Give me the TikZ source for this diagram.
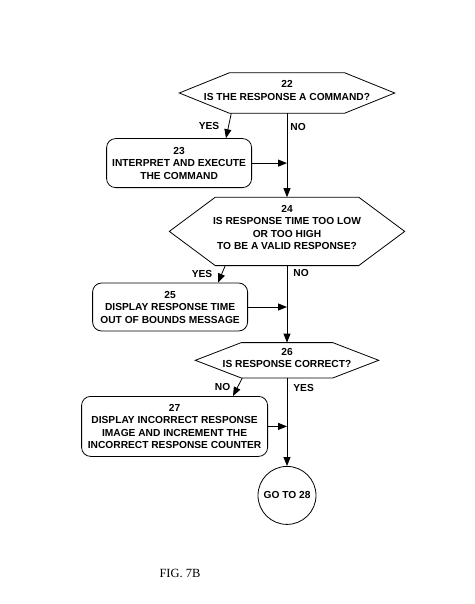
\documentclass[tikz,border=0pt]{standalone}
\usepackage{fontspec}
\setmainfont{Liberation Sans}
\newfontfamily\captionfont{Liberation Serif}
\usetikzlibrary{arrows.meta, positioning, calc}

\newcommand{\boxfont}{\fontsize{10.2}{12.5}\selectfont\bfseries}

\begin{document}
\begin{tikzpicture}[
  x=1pt, y=-1pt,
  query/.style = {align=center, inner sep=0pt, font=\boxfont,
    append after command={\pgfextra{\draw[thick] (\tikzlastnode.west)
      -- ([xshift=#1]\tikzlastnode.north west) -- ([xshift=-#1]\tikzlastnode.north east)
      -- (\tikzlastnode.east)
      -- ([xshift=-#1]\tikzlastnode.south east) -- ([xshift=#1]\tikzlastnode.south west) -- cycle;}}},
  action/.style = {draw, thick, rounded corners=9pt, align=center, inner sep=0pt, font=\boxfont},
  jump/.style = {draw, thick, circle, minimum size=58pt, inner sep=0pt, font=\boxfont},
  arrow/.style = {thick, -{Triangle[length=9pt, width=7pt]}},
  tag/.style = {inner sep=0pt, font=\boxfont}
]

  \useasboundingbox (0,0) rectangle (474,604);

  % decision 22 and the command branch
  \node[query=50pt, minimum width=215pt, minimum height=40pt, text depth=5pt] (q22) at (287,93) {22\\IS THE RESPONSE A COMMAND?};
  \node[action, minimum width=145pt, minimum height=49pt, below left=25pt and 35pt of q22.south] (b23) {23\\INTERPRET AND EXECUTE\\THE COMMAND};

  % decision 24 and the bounds message
  \node[query=46pt, minimum width=235pt, minimum height=68pt, text depth=8pt, below=84pt of q22] (q24) {24\\IS RESPONSE TIME TOO LOW\\OR TOO HIGH\\TO BE A VALID RESPONSE?};
  \node[action, minimum width=155pt, minimum height=48pt, below left=17pt and 39pt of q24.south] (b25) {25\\DISPLAY RESPONSE TIME\\OUT OF BOUNDS MESSAGE};

  % decision 26 and the wrong answer branch
  \node[query=46pt, minimum width=183pt, minimum height=35pt, text depth=5pt, below=77pt of q24] (q26) {26\\IS RESPONSE CORRECT?};
  \node[action, minimum width=186pt, minimum height=60pt, below left=18pt and 19pt of q26.south] (b27) {27\\DISPLAY INCORRECT RESPONSE\\IMAGE AND INCREMENT THE\\INCORRECT RESPONSE COUNTER};

  \node[jump, below=88pt of q26] (c28) {GO TO 28};

  % main line down the right
  \draw[arrow] (q22.south) -- node[tag, pos=0.17, right=3pt] {NO} (q24.north);
  \draw[arrow] (q24.south) -- node[tag, pos=0.1, right=6pt] {NO} (q26.north);
  \draw[arrow] (q26.south) -- node[tag, pos=0.11, right=6pt] {YES} (c28.north);

  % side branches
  \draw[arrow] ([xshift=52pt]q22.south west) -- node[tag, left=9pt] {YES} ($(b23.north east)+(-26,0)$);
  \draw[arrow] ([xshift=56pt]q24.south west) -- node[tag, left=9pt] {YES} ($(b25.north east)+(-30,0)$);
  \draw[arrow] ([xshift=47pt]q26.south west) -- node[tag, left=7pt] {NO} ($(b27.north east)+(-35,0)$);

  % back into the main line
  \draw[arrow] (b23.east) -- (b23.east -| q22.south);
  \draw[arrow] (b25.east) -- (b25.east -| q24.south);
  \draw[arrow] (b27.east) -- (b27.east -| q26.south);

  \node[font=\captionfont\fontsize{12.5}{14}\selectfont] (fig) at (180,573) {FIG. 7B};

\end{tikzpicture}
\end{document}
